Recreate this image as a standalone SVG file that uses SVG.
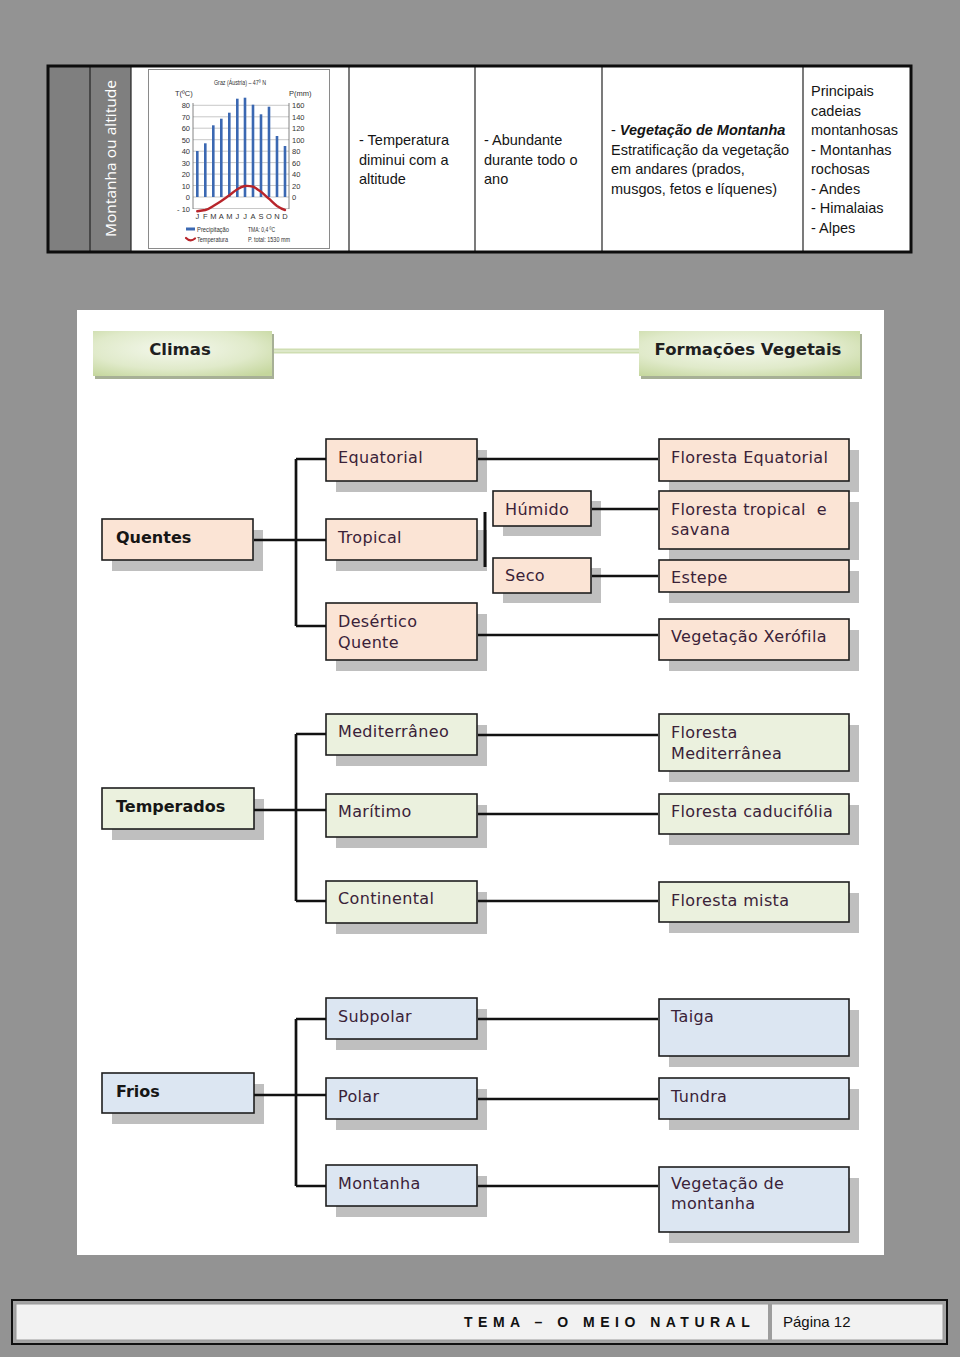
<svg xmlns="http://www.w3.org/2000/svg" width="960" height="1357" viewBox="0 0 960 1357">
<defs>
<style>
.tbl{font-family:"Liberation Sans",Arial,sans-serif;font-size:14.5px;fill:#151515}
.ch{font-family:"Liberation Sans",Arial,sans-serif;font-size:7.5px;fill:#333}
.sh{fill:#bfbfbf}
.pe{fill:#fbe4d5;stroke:#1e1e1e;stroke-width:1.6}
.gr{fill:#ebf1de;stroke:#1e1e1e;stroke-width:1.6}
.bl{fill:#dce6f2;stroke:#1e1e1e;stroke-width:1.6}
.t{font-family:"DejaVu Sans",Verdana,sans-serif;font-size:16px;letter-spacing:0.35px;fill:#3a2238}
.b{font-family:"DejaVu Sans",Verdana,sans-serif;font-size:16px;font-weight:bold;fill:#161616}
.hd{font-family:"DejaVu Sans",Verdana,sans-serif;font-size:16.5px;font-weight:bold;fill:#1f1f1f}
.cn{fill:none;stroke:#111;stroke-width:2.7}
.grid{stroke:#b0b0b0;stroke-width:0.7}
</style>
<radialGradient id="hg" cx="45%" cy="40%" r="75%">
<stop offset="0" stop-color="#f4f8ed"/>
<stop offset="0.6" stop-color="#e0eaca"/>
<stop offset="1" stop-color="#c4d69c"/>
</radialGradient>
</defs>

<rect x="0" y="0" width="960" height="1357" fill="#939393"/>

<!-- Top table -->
<g id="top-table">
<rect x="48" y="66" width="863" height="186" fill="#ffffff"/>
<rect x="48" y="66" width="83" height="186" fill="#7f7f7f"/>
<g stroke="#222" stroke-width="1.2">
<line x1="90" y1="66" x2="90" y2="252"/>
<line x1="131" y1="66" x2="131" y2="252"/>
<line x1="349" y1="66" x2="349" y2="252"/>
<line x1="475" y1="66" x2="475" y2="252"/>
<line x1="602" y1="66" x2="602" y2="252"/>
<line x1="803" y1="66" x2="803" y2="252"/>
</g>
<rect x="48" y="66" width="863" height="186" fill="none" stroke="#0d0d0d" stroke-width="3"/>
<text transform="translate(116,158.5) rotate(-90)" text-anchor="middle" font-family="'Open Sans',sans-serif" font-size="15" fill="#ffffff" textLength="157" lengthAdjust="spacingAndGlyphs">Montanha ou altitude</text>

<g id="chart">
<rect x="148.5" y="69.5" width="181" height="179" fill="#ffffff" stroke="#8a8a8a" stroke-width="1"/>
<text class="ch" x="240" y="85" text-anchor="middle" font-size="9" textLength="52" lengthAdjust="spacingAndGlyphs">Graz (Áustria) – 47º N</text>
<text class="ch" x="175" y="96" font-size="7.5">T(ºC)</text>
<text class="ch" x="289" y="96" font-size="7.5">P(mm)</text>
<g class="grid">
<line x1="193" y1="105.3" x2="289" y2="105.3"/>
<line x1="193" y1="116.8" x2="289" y2="116.8"/>
<line x1="193" y1="128.2" x2="289" y2="128.2"/>
<line x1="193" y1="139.7" x2="289" y2="139.7"/>
<line x1="193" y1="151.2" x2="289" y2="151.2"/>
<line x1="193" y1="162.6" x2="289" y2="162.6"/>
<line x1="193" y1="174.1" x2="289" y2="174.1"/>
<line x1="193" y1="185.5" x2="289" y2="185.5"/>
<line x1="193" y1="197" x2="289" y2="197"/>
<line x1="193" y1="208.5" x2="289" y2="208.5"/>
</g>
<g stroke="#666" stroke-width="0.8">
<line x1="193" y1="103" x2="193" y2="209"/>
<line x1="289" y1="103" x2="289" y2="209"/>
</g>
<g class="ch" text-anchor="end" font-size="8">
<text x="190" y="108">80</text><text x="190" y="119.5">70</text><text x="190" y="131">60</text><text x="190" y="142.5">50</text><text x="190" y="154">40</text><text x="190" y="165.5">30</text><text x="190" y="177">20</text><text x="190" y="188.5">10</text><text x="190" y="200">0</text><text x="190" y="211.5">- 10</text>
</g>
<g class="ch" font-size="8">
<text x="292" y="108">160</text><text x="292" y="119.5">140</text><text x="292" y="131">120</text><text x="292" y="142.5">100</text><text x="292" y="154">80</text><text x="292" y="165.5">60</text><text x="292" y="177">40</text><text x="292" y="188.5">20</text><text x="292" y="200">0</text>
</g>
<g fill="#3b68b2">
<rect x="196" y="151" width="2.6" height="46"/>
<rect x="204" y="143.3" width="2.6" height="53.7"/>
<rect x="212" y="125.3" width="2.6" height="71.7"/>
<rect x="220" y="118.7" width="2.6" height="78.3"/>
<rect x="228" y="112.7" width="2.6" height="84.3"/>
<rect x="236" y="98.7" width="2.6" height="98.3"/>
<rect x="243.7" y="97.7" width="2.6" height="99.3"/>
<rect x="251.7" y="104.7" width="2.6" height="92.3"/>
<rect x="259.7" y="114.3" width="2.6" height="82.7"/>
<rect x="267.7" y="106.7" width="2.6" height="90.3"/>
<rect x="275.7" y="136" width="2.6" height="61"/>
<rect x="283.7" y="146" width="2.6" height="51"/>
</g>
<path d="M197.3,211.3 C201,210.8 203,210.5 205.3,210 C209,209 211,207.5 213.3,206 C217,203.5 219,202.5 221.3,201 C225,198.5 227,196.8 229.3,195.3 C233,192.5 235,190.8 237.3,189.3 C240,187.5 242,186.3 245,186 C248,185.7 250,186 253,186.7 C256,188 258,190 261,191.7 C264,194 266,196.5 269,198.7 C272,201.5 274,203.8 277,206 C280,208 282,209.2 285,210" fill="none" stroke="#b8252b" stroke-width="2.4" stroke-linecap="round"/>
<g class="ch" text-anchor="middle" font-size="8">
<text x="197.3" y="218.5">J</text><text x="205.3" y="218.5">F</text><text x="213.3" y="218.5">M</text><text x="221.3" y="218.5">A</text><text x="229.3" y="218.5">M</text><text x="237.3" y="218.5">J</text><text x="245" y="218.5">J</text><text x="253" y="218.5">A</text><text x="261" y="218.5">S</text><text x="269" y="218.5">O</text><text x="277" y="218.5">N</text><text x="285" y="218.5">D</text>
</g>
<rect x="186" y="227.5" width="9" height="3" fill="#3b68b2"/>
<path d="M186,238 C189,241 192,241 195,238.5" fill="none" stroke="#b8252b" stroke-width="2.2" stroke-linecap="round"/>
<text class="ch" x="197" y="232" font-size="7.5" textLength="32" lengthAdjust="spacingAndGlyphs">Precipitação</text>
<text class="ch" x="197" y="242" font-size="7.5" textLength="31" lengthAdjust="spacingAndGlyphs">Temperatura</text>
<text class="ch" x="248" y="232" font-size="7.5" textLength="27" lengthAdjust="spacingAndGlyphs">TMA: 0,4 ºC</text>
<text class="ch" x="248" y="242" font-size="7.5" textLength="42" lengthAdjust="spacingAndGlyphs">P. total: 1530 mm</text>
</g>

<g class="tbl">
<text x="359" y="145">- Temperatura</text>
<text x="359" y="164.5">diminui com a</text>
<text x="359" y="184">altitude</text>
<text x="484" y="145">- Abundante</text>
<text x="484" y="164.5">durante todo o</text>
<text x="484" y="184">ano</text>
<text x="611" y="135">- <tspan font-weight="bold" font-style="italic">Vegetação de Montanha</tspan></text>
<text x="611" y="154.5">Estratificação da vegetação</text>
<text x="611" y="174">em andares (prados,</text>
<text x="611" y="193.5">musgos, fetos e líquenes)</text>
<text x="811" y="96">Principais</text>
<text x="811" y="115.5">cadeias</text>
<text x="811" y="135">montanhosas</text>
<text x="811" y="154.5">- Montanhas</text>
<text x="811" y="174">rochosas</text>
<text x="811" y="193.5">- Andes</text>
<text x="811" y="213">- Himalaias</text>
<text x="811" y="232.5">- Alpes</text>
</g>
</g>

<!-- White panel -->
<rect x="77" y="310" width="807" height="945" fill="#ffffff"/>

<!-- Headers -->
<g id="header-link">
<line x1="272" y1="351" x2="639" y2="351" stroke="#cfdeb2" stroke-width="5"/>
<line x1="272" y1="351" x2="639" y2="351" stroke="#e2ebd0" stroke-width="1.5"/>
</g>
<g id="climas">
<rect x="95" y="334" width="179" height="45" fill="#a7b096"/>
<rect x="93" y="331" width="179" height="45" fill="url(#hg)"/>
<text class="hd" x="180" y="355" text-anchor="middle">Climas</text>
</g>
<g id="formacoes">
<rect x="641" y="334" width="221" height="45" fill="#a7b096"/>
<rect x="639" y="331" width="221" height="45" fill="url(#hg)"/>
<text class="hd" x="748" y="355" text-anchor="middle">Formações Vegetais</text>
</g>

<!-- Quentes -->
<g id="quentes"><rect class="sh" x="112" y="530" width="151" height="41"/><rect class="pe" x="102" y="519" width="151" height="41"/><text class="b" x="116" y="543">Quentes</text></g>
<g id="equatorial"><rect class="sh" x="336" y="450" width="151" height="42"/><rect class="pe" x="326" y="439" width="151" height="42"/><text class="t" x="338" y="463">Equatorial</text></g>
<g id="tropical"><rect class="sh" x="336" y="530" width="151" height="41"/><rect class="pe" x="326" y="519" width="151" height="41"/><text class="t" x="338" y="543">Tropical</text></g>
<g id="desertico"><rect class="sh" x="336" y="614" width="151" height="57"/><rect class="pe" x="326" y="603" width="151" height="57"/><text class="t" x="338" y="627">Desértico</text><text class="t" x="338" y="648">Quente</text></g>
<g id="humido"><rect class="sh" x="503" y="501" width="98" height="35"/><rect class="pe" x="493" y="491" width="98" height="35"/><text class="t" x="505" y="515">Húmido</text></g>
<g id="seco"><rect class="sh" x="503" y="568" width="98" height="35"/><rect class="pe" x="493" y="558" width="98" height="35"/><text class="t" x="505" y="581">Seco</text></g>
<g id="floresta-equatorial"><rect class="sh" x="669" y="450" width="190" height="42"/><rect class="pe" x="659" y="439" width="190" height="42"/><text class="t" x="671" y="463">Floresta Equatorial</text></g>
<g id="floresta-tropical"><rect class="sh" x="669" y="502" width="190" height="58"/><rect class="pe" x="659" y="491" width="190" height="58"/><text class="t" x="671" y="515" xml:space="preserve">Floresta tropical  e</text><text class="t" x="671" y="535">savana</text></g>
<g id="estepe"><rect class="sh" x="669" y="571" width="190" height="32"/><rect class="pe" x="659" y="560" width="190" height="32"/><text class="t" x="671" y="583">Estepe</text></g>
<g id="xerofila"><rect class="sh" x="669" y="630" width="190" height="41"/><rect class="pe" x="659" y="619" width="190" height="41"/><text class="t" x="671" y="642">Vegetação Xerófila</text></g>

<!-- Temperados -->
<g id="temperados"><rect class="sh" x="112" y="799" width="152" height="41"/><rect class="gr" x="102" y="788" width="152" height="41"/><text class="b" x="116" y="812">Temperados</text></g>
<g id="mediterraneo"><rect class="sh" x="336" y="725" width="151" height="41"/><rect class="gr" x="326" y="714" width="151" height="41"/><text class="t" x="338" y="737">Mediterrâneo</text></g>
<g id="maritimo"><rect class="sh" x="336" y="805" width="151" height="43"/><rect class="gr" x="326" y="794" width="151" height="43"/><text class="t" x="338" y="817">Marítimo</text></g>
<g id="continental"><rect class="sh" x="336" y="892" width="151" height="42"/><rect class="gr" x="326" y="881" width="151" height="42"/><text class="t" x="338" y="904">Continental</text></g>
<g id="floresta-mediterranea"><rect class="sh" x="669" y="725" width="190" height="57"/><rect class="gr" x="659" y="714" width="190" height="57"/><text class="t" x="671" y="738">Floresta</text><text class="t" x="671" y="759">Mediterrânea</text></g>
<g id="floresta-caducifolia"><rect class="sh" x="669" y="805" width="190" height="40"/><rect class="gr" x="659" y="794" width="190" height="40"/><text class="t" x="671" y="817">Floresta caducifólia</text></g>
<g id="floresta-mista"><rect class="sh" x="669" y="893" width="190" height="40"/><rect class="gr" x="659" y="882" width="190" height="40"/><text class="t" x="671" y="906">Floresta mista</text></g>

<!-- Frios -->
<g id="frios"><rect class="sh" x="112" y="1084" width="152" height="40"/><rect class="bl" x="102" y="1073" width="152" height="40"/><text class="b" x="116" y="1097">Frios</text></g>
<g id="subpolar"><rect class="sh" x="336" y="1009" width="151" height="41"/><rect class="bl" x="326" y="998" width="151" height="41"/><text class="t" x="338" y="1022">Subpolar</text></g>
<g id="polar"><rect class="sh" x="336" y="1089" width="151" height="41"/><rect class="bl" x="326" y="1078" width="151" height="41"/><text class="t" x="338" y="1102">Polar</text></g>
<g id="montanha"><rect class="sh" x="336" y="1176" width="151" height="41"/><rect class="bl" x="326" y="1165" width="151" height="41"/><text class="t" x="338" y="1189">Montanha</text></g>
<g id="taiga"><rect class="sh" x="669" y="1010" width="190" height="57"/><rect class="bl" x="659" y="999" width="190" height="57"/><text class="t" x="671" y="1022">Taiga</text></g>
<g id="tundra"><rect class="sh" x="669" y="1089" width="190" height="41"/><rect class="bl" x="659" y="1078" width="190" height="41"/><text class="t" x="671" y="1102">Tundra</text></g>
<g id="vegetacao-montanha"><rect class="sh" x="669" y="1178" width="190" height="65"/><rect class="bl" x="659" y="1167" width="190" height="65"/><text class="t" x="671" y="1189">Vegetação de</text><text class="t" x="671" y="1209">montanha</text></g>

<!-- Connectors (drawn over shadows, ending at box edges) -->
<g id="connectors" class="cn">
<path d="M254,540 H296 M296,459 V626 M296,459 H326 M296,540 H326 M296,626 H326"/>
<path d="M478,459 H658 M592,509 H658 M592,576 H658 M478,635 H658"/>
<path d="M485,512 V567" stroke-width="3"/>
<path d="M254,810 H296 M296,734 V901 M296,734 H326 M296,810 H326 M296,901 H326"/>
<path d="M478,735 H658 M478,814 H658 M478,901 H658"/>
<path d="M254,1095 H296 M296,1019 V1186 M296,1019 H326 M296,1095 H326 M296,1186 H326"/>
<path d="M478,1019 H658 M478,1099 H658 M478,1186 H658"/>
</g>

<!-- Footer -->
<g id="footer">
<rect x="12" y="1300" width="935" height="44" fill="#a3a3a3" stroke="#111" stroke-width="2"/>
<rect x="16" y="1304" width="927" height="36" fill="#f2f2f2" stroke="#9a9a9a" stroke-width="1"/>
<rect x="768" y="1304" width="4" height="36" fill="#9d9d9d"/>
<text x="464" y="1327" font-family="'Liberation Sans',Arial,sans-serif" font-size="14" font-weight="bold" fill="#111" letter-spacing="5.5">TEMA – O MEIO NATURAL</text>
<text x="783" y="1327" font-family="'Liberation Sans',Arial,sans-serif" font-size="15" fill="#111">Página 12</text>
</g>
</svg>
